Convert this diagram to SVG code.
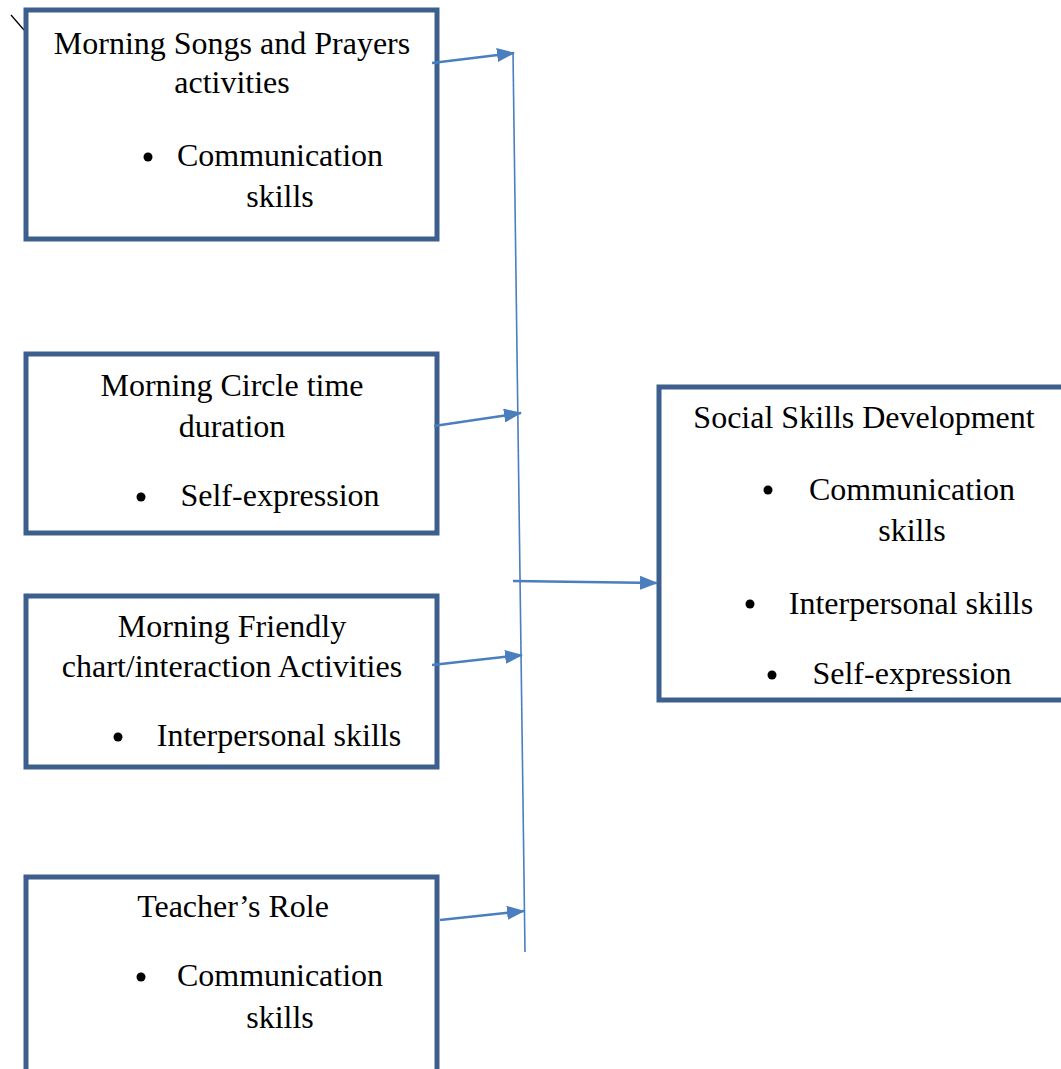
<svg xmlns="http://www.w3.org/2000/svg" width="1061" height="1069" viewBox="0 0 1061 1069">
  <style>
    .box { fill: #ffffff; stroke: #3d5f8d; stroke-width: 5; }
    .t { font-family: "Liberation Serif", "Times New Roman", serif; font-size: 32px; fill: #000000; text-anchor: middle; }
    .dot { fill: #000000; }
    .link { stroke: #4a7ebe; stroke-width: 2.5; fill: none; }
    .spine { stroke: #4a7ebe; stroke-width: 1.6; fill: none; }
  </style>
  <defs>
    <marker id="arrow" viewBox="0 0 18 14" refX="17" refY="7" markerWidth="18" markerHeight="14" markerUnits="userSpaceOnUse" orient="auto">
      <path d="M0,0 L18,7 L0,14 Z" fill="#4a7ebe"/>
    </marker>
  </defs>
  <rect width="1061" height="1069" fill="#ffffff"/>

  <!-- stray stroke at the top-left corner -->
  <line x1="11" y1="15" x2="24" y2="30" stroke="#000000" stroke-width="1.3"/>

  <g id="songs-prayers">
    <rect class="box" x="26" y="10" width="411" height="229"/>
    <text class="t" x="232" y="54">Morning Songs and Prayers</text>
    <text class="t" x="232" y="93">activities</text>
    <circle class="dot" cx="148" cy="157" r="4.5"/>
    <text class="t" x="280" y="166">Communication</text>
    <text class="t" x="280" y="207">skills</text>
  </g>

  <g id="circle-time">
    <rect class="box" x="26" y="354" width="411" height="179"/>
    <text class="t" x="232" y="396">Morning Circle time</text>
    <text class="t" x="232" y="437">duration</text>
    <circle class="dot" cx="141" cy="497" r="4.5"/>
    <text class="t" x="280" y="506">Self-expression</text>
  </g>

  <g id="friendly-chart">
    <rect class="box" x="26" y="596" width="411" height="171"/>
    <text class="t" x="232" y="637">Morning Friendly</text>
    <text class="t" x="232" y="677">chart/interaction Activities</text>
    <circle class="dot" cx="118" cy="737" r="4.5"/>
    <text class="t" x="279" y="746">Interpersonal skills</text>
  </g>

  <g id="teacher-role">
    <rect class="box" x="26" y="877" width="411" height="200"/>
    <text class="t" x="233" y="917">Teacher’s Role</text>
    <circle class="dot" cx="141" cy="977" r="4.5"/>
    <text class="t" x="280" y="986">Communication</text>
    <text class="t" x="280" y="1028">skills</text>
  </g>

  <g id="social-skills">
    <rect class="box" x="659" y="387" width="420" height="313"/>
    <text class="t" x="864" y="428">Social Skills Development</text>
    <circle class="dot" cx="768" cy="490" r="4.5"/>
    <text class="t" x="912" y="500">Communication</text>
    <text class="t" x="912" y="541">skills</text>
    <circle class="dot" cx="750" cy="604" r="4.5"/>
    <text class="t" x="911" y="614">Interpersonal skills</text>
    <circle class="dot" cx="772" cy="675" r="4.5"/>
    <text class="t" x="912" y="684">Self-expression</text>
  </g>

  <g id="connectors">
    <line class="spine" x1="513" y1="52" x2="525" y2="952"/>
    <line class="link" x1="432" y1="63" x2="514" y2="53" marker-end="url(#arrow)"/>
    <line class="link" x1="434" y1="426" x2="521" y2="413" marker-end="url(#arrow)"/>
    <line class="link" x1="432" y1="665" x2="522" y2="655" marker-end="url(#arrow)"/>
    <line class="link" x1="440" y1="920" x2="524" y2="911" marker-end="url(#arrow)"/>
    <line class="link" x1="513" y1="581" x2="657" y2="583" marker-end="url(#arrow)"/>
  </g>
</svg>
